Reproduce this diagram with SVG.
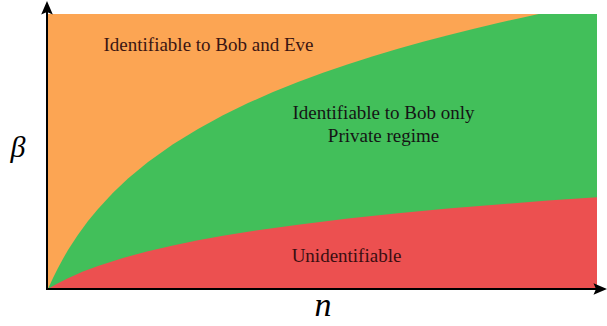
<svg xmlns="http://www.w3.org/2000/svg" width="607" height="326" viewBox="0 0 607 326">
  <style>
    text { font-family: "Liberation Serif", "Tinos", "Times New Roman", "DejaVu Serif", serif; }
    .lbl { font-size: 19px; text-anchor: middle; }
    .math { font-style: italic; text-anchor: middle; fill: #000; }
    .axis { stroke: #000; stroke-width: 2; fill: none; }
  </style>
  <defs>
    <clipPath id="plotClip">
      <rect x="48" y="14" width="549" height="275"/>
    </clipPath>
    <marker id="arrow" viewBox="-14 -6 14 12" refX="-9" refY="0" markerWidth="14" markerHeight="12" markerUnits="userSpaceOnUse" orient="auto">
      <path d="M0,0 L-13.5,-5.8 L-11,0 L-13.5,5.8 Z" fill="#000"/>
    </marker>
  </defs>

  <g id="regions" clip-path="url(#plotClip)">
    <g id="region-bob-eve">
      <rect x="48" y="14" width="549.5" height="275" fill="#FCA553"/>
    </g>
    <g id="region-bob-only">
      <polygon fill="#42BF5A" points="48,289 49,286.7 50,284.5 53,278 58,267.9 63,258.7 68,250.1 78,234.7 88,221.1 98,208.9 113,192.8 128,178.6 148,162.1 173,144.3 198,128.9 223,115.3 248,103.1 273,92.1 298,82.1 323,72.8 348,64.2 373,56.2 398,48.8 423,41.8 448,35.2 473,28.9 498,23.0 523,17.4 548,12 598,12 598,289"/>
    </g>
    <g id="region-unidentifiable">
      <polygon fill="#EC5050" points="48,289 50,287.8 53,286 58,283.2 63,280.7 68,278.2 83,271.6 98,265.9 123,257.9 148,251.2 173,245.4 198,240.3 223,235.8 248,231.7 298,224.7 348,218.6 398,213.3 448,208.6 498,204.4 548,200.6 598,197.1 598,289"/>
    </g>
  </g>

  <g id="connectors">
    <line id="y-axis" class="axis" x1="47" y1="290" x2="47" y2="10" marker-end="url(#arrow)"/>
    <line id="x-axis" class="axis" x1="46" y1="289" x2="598" y2="289" marker-end="url(#arrow)"/>
  </g>

  <g id="label-bob-eve">
    <text class="lbl" x="208.5" y="51" fill="#3A1512" font-family="Liberation Serif, serif">Identifiable to Bob and Eve</text>
  </g>
  <g id="label-bob-only">
    <text class="lbl" x="383.5" y="119" fill="#151515" font-family="Liberation Serif, serif">Identifiable to Bob only</text>
    <text class="lbl" x="383.5" y="142" fill="#151515" font-family="Liberation Serif, serif">Private regime</text>
  </g>
  <g id="label-unidentifiable">
    <text class="lbl" x="346.5" y="262" fill="#3A0E10" font-family="Liberation Serif, serif">Unidentifiable</text>
  </g>
  <g id="axis-labels">
    <text class="math" x="18" y="157" font-size="30" font-family="Liberation Serif, serif">β</text>
    <text class="math" x="323" y="316" font-size="34" font-family="Liberation Serif, serif">n</text>
  </g>
</svg>
